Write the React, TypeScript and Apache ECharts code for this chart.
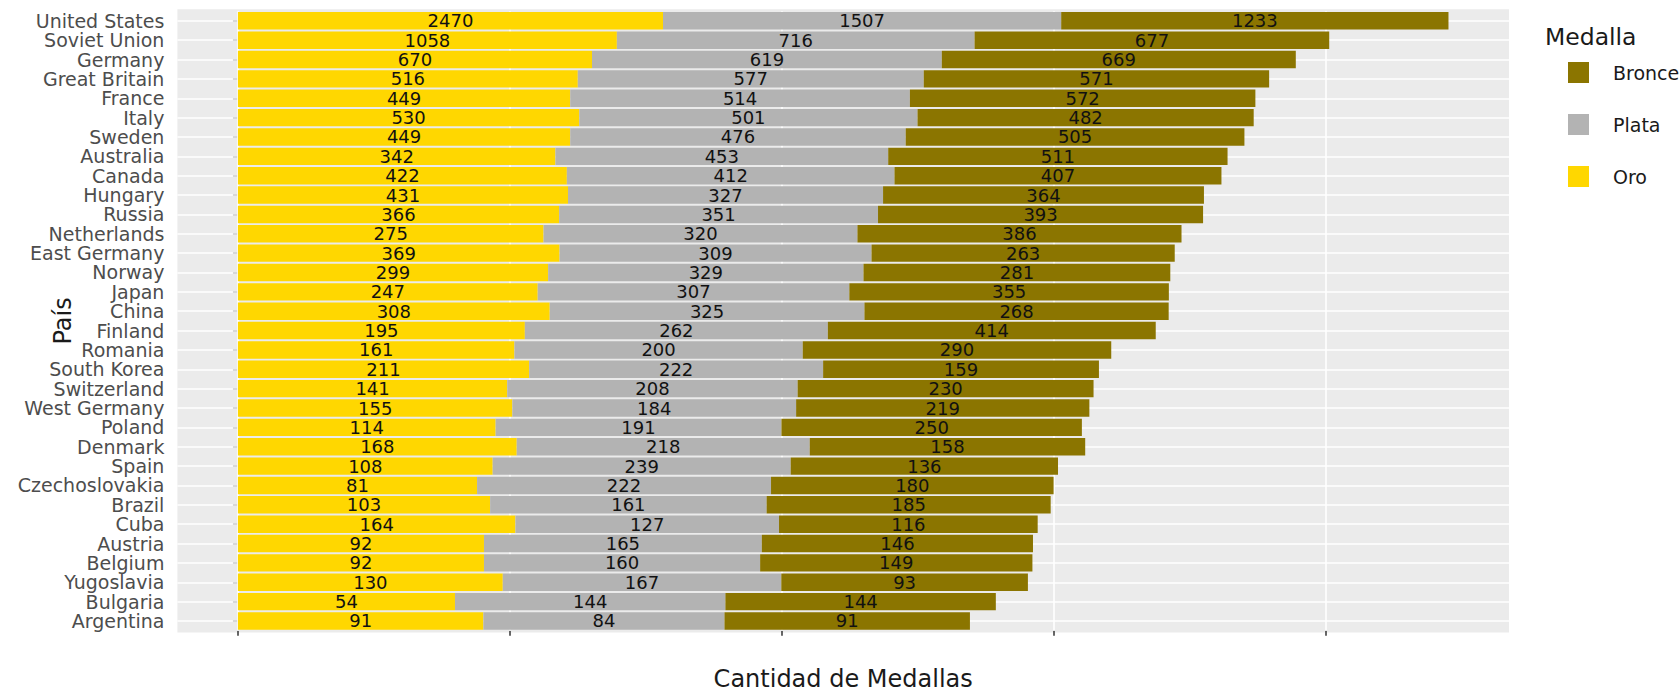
import React, { useEffect, useRef } from "react";
import * as echarts from "echarts";

const countries = [
  "United States", "Soviet Union", "Germany", "Great Britain", "France", "Italy", "Sweden", "Australia",
  "Canada", "Hungary", "Russia", "Netherlands", "East Germany", "Norway", "Japan", "China",
  "Finland", "Romania", "South Korea", "Switzerland", "West Germany", "Poland", "Denmark", "Spain",
  "Czechoslovakia", "Brazil", "Cuba", "Austria", "Belgium", "Yugoslavia", "Bulgaria", "Argentina",
];
const gold = [2470, 1058, 670, 516, 449, 530, 449, 342, 422, 431, 366, 275, 369, 299, 247, 308, 195, 161, 211, 141, 155, 114, 168, 108, 81, 103, 164, 92, 92, 130, 54, 91];
const silver = [1507, 716, 619, 577, 514, 501, 476, 453, 412, 327, 351, 320, 309, 329, 307, 325, 262, 200, 222, 208, 184, 191, 218, 239, 222, 161, 127, 165, 160, 167, 144, 84];
const bronze = [1233, 677, 669, 571, 572, 482, 505, 511, 407, 364, 393, 386, 263, 281, 355, 268, 414, 290, 159, 230, 219, 250, 158, 136, 180, 185, 116, 146, 149, 93, 144, 91];
const xTicks = [0, 5, 10, 15, 20];
const legendNames = ["Bronce", "Plata", "Oro"];

const FONT = "DejaVu Sans";
const COLORS = { Oro: "#FFD700", Plata: "#B3B3B3", Bronce: "#8B7500" };

// layout (pixels)
const W = 1680;
const H = 694;
const PANEL_L = 177.4;
const PANEL_R = 1509;
const PANEL_T = 9.2;
const PANEL_B = 632.6;

export default function App() {
  const ref = useRef<HTMLDivElement>(null);

  useEffect(() => {
    document.body.style.margin = "0";
    if (!ref.current) return;
    const chart = echarts.init(ref.current, null, { renderer: "svg" });

    const gLn = gold.map((v) => Math.log(v));
    const sLn = silver.map((v) => Math.log(v));
    const bLn = bronze.map((v) => Math.log(v));
    const totals = countries.map((_, i) => gLn[i] + sLn[i] + bLn[i]);
    const maxT = Math.max(...totals);
    const xMin = -0.05 * maxT;
    const xMax = 1.05 * maxT;

    const n = countries.length;
    const band = (PANEL_B - PANEL_T) / (n - 1 + 1.2);
    const gridTop = PANEL_T + 0.1 * band;
    const gridBottom = H - (PANEL_B - 0.1 * band);

    const mkBar = (name: string, lnData: number[], raw: number[]) => ({
      name,
      type: "bar",
      stack: "total",
      barWidth: "90%",
      z: 3,
      itemStyle: { color: (COLORS as any)[name] },
      label: {
        show: true,
        position: "inside",
        formatter: (p: any) => String(raw[p.dataIndex]),
        color: "#111",
        fontSize: 18,
        fontFamily: FONT,
      },
      emphasis: { disabled: true },
      data: lnData,
    });

    const option: any = {
      animation: false,
      backgroundColor: "#ffffff",
      grid: {
        left: PANEL_L,
        right: W - PANEL_R,
        top: gridTop,
        bottom: gridBottom,
        containLabel: false,
        outerBoundsMode: "none",
      },
      xAxis: {
        type: "value",
        min: xMin,
        max: xMax,
        axisLine: { show: false },
        axisTick: {
          show: true,
          length: 5,
          customValues: xTicks,
          lineStyle: { color: "#333333", width: 1.5 },
        },
        axisLabel: { show: false },
        splitLine: { show: false },
      },
      yAxis: {
        type: "category",
        inverse: true,
        data: countries,
        axisLine: { show: false },
        axisTick: {
          show: true,
          alignWithLabel: true,
          interval: 0,
          length: 5,
          lineStyle: { color: "#333333", width: 1.5 },
        },
        axisLabel: {
          interval: 0,
          color: "#4D4D4D",
          fontSize: 19,
          fontFamily: FONT,
          margin: 13,
        },
        splitLine: { show: false },
      },
      legend: {
        data: legendNames,
        orient: "vertical",
        left: 1563,
        top: 57,
        itemWidth: 21,
        itemHeight: 21,
        itemGap: 31,
        icon: "rect",
        selectedMode: false,
        textStyle: {
          fontSize: 19,
          fontFamily: FONT,
          color: "#1a1a1a",
          lineHeight: 21,
          padding: [0, 0, 0, 19],
        },
      },
      graphic: [
        {
          type: "rect",
          z: -10,
          silent: true,
          shape: { x: PANEL_L, y: PANEL_T, width: PANEL_R - PANEL_L, height: PANEL_B - PANEL_T },
          style: { fill: "#EBEBEB" },
        },
        {
          type: "text",
          x: (PANEL_L + PANEL_R) / 2,
          y: 679,
          style: {
            text: "Cantidad de Medallas",
            fontSize: 24,
            fontFamily: FONT,
            fill: "#1a1a1a",
            align: "center",
            verticalAlign: "middle",
          },
        },
        {
          type: "text",
          x: 63,
          y: (PANEL_T + PANEL_B) / 2,
          rotation: Math.PI / 2,
          style: {
            text: "País",
            fontSize: 24,
            fontFamily: FONT,
            fill: "#1a1a1a",
            align: "center",
            verticalAlign: "middle",
          },
        },
        {
          type: "text",
          x: 1545,
          y: 37,
          style: {
            text: "Medalla",
            fontSize: 23.5,
            fontFamily: FONT,
            fill: "#1a1a1a",
            align: "left",
            verticalAlign: "middle",
          },
        },
      ],
      series: [
        {
          name: "grid",
          type: "line",
          data: [],
          silent: true,
          markLine: {
            silent: true,
            z: 1,
            symbol: ["none", "none"],
            label: { show: false },
            lineStyle: { color: "#ffffff", width: 1.6, type: "solid" },
            emphasis: { disabled: true },
            data: [
              ...xTicks.map((v) => ({ xAxis: v })),
              ...countries.map((c) => ({ yAxis: c })),
            ],
          },
        },
        mkBar("Oro", gLn, gold),
        mkBar("Plata", sLn, silver),
        mkBar("Bronce", bLn, bronze),
      ],
    };

    chart.setOption(option);
    return () => chart.dispose();
  }, []);

  return <div ref={ref} style={{ width: W, height: H }} />;
}
